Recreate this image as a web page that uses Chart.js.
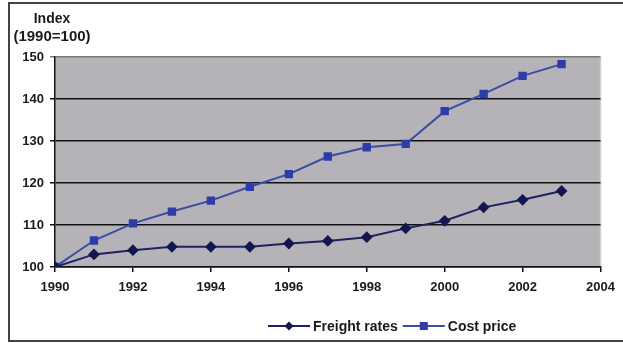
<!DOCTYPE html>
<html>
<head>
<meta charset="utf-8">
<script src="https://cdn.jsdelivr.net/npm/chart.js@4.4.1/dist/chart.umd.min.js"></script>
<style>
  html, body { margin: 0; padding: 0; background: #fff; }
  #wrap { width: 623px; height: 343px; position: relative; }
</style>
</head>
<body>
<div id="wrap"><canvas id="indexChart" width="623" height="343"></canvas></div>
<script>
// Index values, 1990 = 100
const years = [1990, 1991, 1992, 1993, 1994, 1995, 1996, 1997, 1998, 1999, 2000, 2001, 2002, 2003];
const freightRates = [100, 103.0, 104.0, 104.8, 104.8, 104.8, 105.6, 106.2, 107.1, 109.2, 111.0, 114.2, 116.0, 118.1];
const costPrice = [100, 106.3, 110.4, 113.2, 115.8, 119.1, 122.1, 126.3, 128.5, 129.3, 137.1, 141.2, 145.5, 148.3];
const axisTitle = ['Index', '(1990=100)'];

const FONT = '"Liberation Sans", Arial, sans-serif';

function toPoints(values) {
    return years.map((y, i) => ({ x: y, y: values[i] }));
}

// grey plot background, outer frame, axis caption and legend
const decorations = {
    id: 'decorations',
    beforeDraw(chart) {
        const ctx = chart.ctx;
        const a = chart.chartArea;
        ctx.save();
        ctx.fillStyle = '#b5b3b8';
        ctx.fillRect(a.left, a.top, a.right - a.left, a.bottom - a.top);
        ctx.strokeStyle = '#d0d0d0';
        ctx.lineWidth = 1.5;
        ctx.beginPath();
        ctx.moveTo(a.right, a.top);
        ctx.lineTo(a.right, a.bottom);
        ctx.stroke();
        ctx.restore();
    },
    afterDraw(chart) {
        const ctx = chart.ctx;
        ctx.save();
        // frame
        ctx.strokeStyle = '#444';
        ctx.lineWidth = 2;
        ctx.beginPath();
        ctx.moveTo(640, 3);
        ctx.lineTo(9, 3);
        ctx.lineTo(9, 341);
        ctx.lineTo(640, 341);
        ctx.stroke();

        // caption above the y axis
        ctx.fillStyle = '#1a1a1a';
        ctx.font = 'bold 14px ' + FONT;
        ctx.textAlign = 'center';
        ctx.textBaseline = 'middle';
        ctx.fillText(axisTitle[0], 52, 19);
        ctx.font = 'bold 15px ' + FONT;
        ctx.fillText(axisTitle[1], 52, 37);

        // legend: line sample with marker, then label
        const items = chart.data.datasets;
        let x = 268;
        const y = 326;
        ctx.font = 'bold 14px ' + FONT;
        ctx.textAlign = 'left';
        items.forEach(ds => {
            ctx.strokeStyle = ds.borderColor;
            ctx.lineWidth = 2;
            ctx.beginPath();
            ctx.moveTo(x, y);
            ctx.lineTo(x + 42, y);
            ctx.stroke();
            ctx.fillStyle = ds.pointBackgroundColor;
            const cx = x + 21;
            if (ds.pointStyle === 'rectRot') {
                ctx.beginPath();
                ctx.moveTo(cx, y - 4.5);
                ctx.lineTo(cx + 4.5, y);
                ctx.lineTo(cx, y + 4.5);
                ctx.lineTo(cx - 4.5, y);
                ctx.closePath();
                ctx.fill();
            } else {
                ctx.fillRect(cx - 4, y - 4, 8, 8);
            }
            ctx.fillStyle = '#1a1a1a';
            ctx.fillText(ds.label, x + 45, y + 1);
            x += 45 + ctx.measureText(ds.label).width + 5;
        });
        ctx.restore();
    }
};

const ctx = document.getElementById('indexChart').getContext('2d');
const indexChart = new Chart(ctx, {
    type: 'line',
    data: {
        datasets: [{
            label: 'Freight rates',
            data: toPoints(freightRates),
            borderColor: '#1f2160',
            backgroundColor: '#1a1c5c',
            pointBackgroundColor: '#14164f',
            pointBorderColor: '#14164f',
            pointStyle: 'rectRot',
            pointRadius: 4.5,
            borderWidth: 2,
            tension: 0
        }, {
            label: 'Cost price',
            data: toPoints(costPrice),
            borderColor: '#3d4ba6',
            backgroundColor: '#2f3fa8',
            pointBackgroundColor: '#2e3caa',
            pointBorderColor: '#2e3caa',
            pointStyle: 'rect',
            pointRadius: 4.5,
            borderWidth: 2,
            tension: 0
        }]
    },
    options: {
        responsive: false,
        animation: false,
        devicePixelRatio: 1,
        layout: { padding: { top: 57, right: 21, left: 0, bottom: 0 } },
        plugins: {
            legend: { display: false },
            tooltip: { enabled: false },
            title: { display: false }
        },
        scales: {
            x: {
                type: 'linear',
                min: 1990,
                max: 2004,
                afterFit(scale) { scale.height = 76; },
                border: { color: '#111', width: 1.5 },
                grid: {
                    drawOnChartArea: false,
                    drawTicks: true,
                    tickLength: 5,
                    color: '#111',
                    lineWidth: 1.5
                },
                ticks: {
                    stepSize: 2,
                    color: '#1a1a1a',
                    padding: 8,
                    maxRotation: 0,
                    font: { family: FONT, size: 13, weight: 'bold' },
                    callback: v => String(v)
                }
            },
            y: {
                min: 100,
                max: 150,
                afterFit(scale) { scale.width = 55; },
                border: { color: '#111', width: 1.5 },
                grid: {
                    drawTicks: true,
                    tickLength: 5,
                    color: ctx => (ctx.tick && ctx.tick.value === 150) ? '#7a7a7a' : '#111',
                    lineWidth: 1.5
                },
                ticks: {
                    stepSize: 10,
                    color: '#1a1a1a',
                    padding: 6,
                    font: { family: FONT, size: 13, weight: 'bold' }
                }
            }
        }
    },
    plugins: [decorations]
});
</script>
</body>
</html>
